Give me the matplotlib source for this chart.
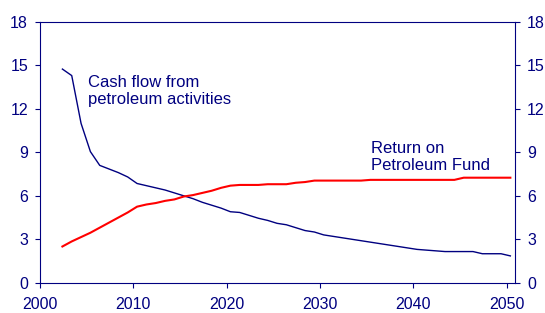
import numpy as np
import matplotlib.pyplot as plt

# Years of the projection.
years = np.arange(2002, 2051)

# Cash flow from petroleum activities (per cent).
cash_flow = [14.75, 14.3, 11.0, 9.05, 8.1, 7.85, 7.6, 7.3, 6.85, 6.7,
             6.55, 6.4, 6.2, 6.0, 5.8, 5.55, 5.35, 5.15, 4.9, 4.85,
             4.65, 4.45, 4.3, 4.1, 4.0, 3.8, 3.6, 3.5, 3.3, 3.2,
             3.1, 3.0, 2.9, 2.8, 2.7, 2.6, 2.5, 2.4, 2.3, 2.25,
             2.2, 2.15, 2.15, 2.15, 2.15, 2.0, 2.0, 2.0, 1.85]

# Return on the petroleum fund (per cent).
fund_return = [2.5, 2.85, 3.15, 3.45, 3.8, 4.15, 4.5, 4.85, 5.25, 5.4,
               5.5, 5.65, 5.75, 5.95, 6.05, 6.2, 6.35, 6.55, 6.7, 6.75,
               6.75, 6.75, 6.8, 6.8, 6.8, 6.9, 6.95, 7.05, 7.05, 7.05,
               7.05, 7.05, 7.05, 7.1, 7.1, 7.1, 7.1, 7.1, 7.1, 7.1,
               7.1, 7.1, 7.1, 7.25, 7.25, 7.25, 7.25, 7.25, 7.25]

y_ticks = [0, 3, 6, 9, 12, 15, 18]
x_ticks = [2000, 2010, 2020, 2030, 2040, 2050]

navy = "#000080"
plt.rcParams["font.family"] = ["Liberation Sans", "DejaVu Sans"]

fig = plt.figure(figsize=(5.45, 3.13), dpi=100)
ax = fig.add_axes([0.0734, 0.0968, 0.8716, 0.8329])

# Points sit in the middle of each year.
x_pos = years + 0.4
ax.plot(x_pos, cash_flow, color=navy, lw=1.0)
ax.plot(x_pos, fund_return, color="red", lw=1.5)

ax.set_xlim(2000, 2050.9)
ax.set_ylim(0, 18)
ax.set_xticks(x_ticks)
ax.set_yticks(y_ticks)

for side in ["left", "right", "top", "bottom"]:
    ax.spines[side].set_color(navy)
ax.tick_params(axis="both", colors=navy, labelcolor=navy, labelsize=11.5,
               direction="out", length=3.6)
ax.tick_params(axis="x", pad=6.5)
ax.tick_params(axis="y", right=True, labelright=True, pad=5)

ax.text(2005.1, 14.35, "Cash flow from\npetroleum activities", color=navy,
        fontsize=12, va="top", ha="left", linespacing=1.2)
ax.text(2035.5, 9.8, "Return on\nPetroleum Fund", color=navy,
        fontsize=12, va="top", ha="left", linespacing=1.2)

fig.savefig("out.png", dpi=100)
